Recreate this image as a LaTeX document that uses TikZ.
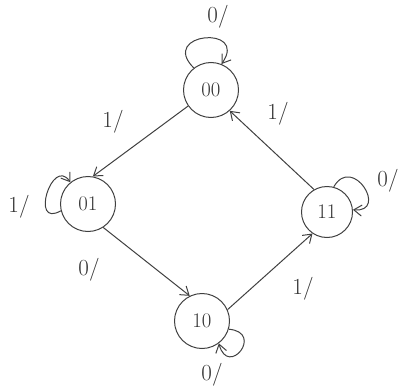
\documentclass[tikz,border=0pt]{standalone}
\usepackage{amsmath}
\usetikzlibrary{arrows.meta}
\tikzset{
  state/.style={draw, circle, minimum size=55pt, inner sep=0pt, font=\huge},
  trans/.style={-{Straight Barb[length=8pt,width=11pt]}},
  lbl/.style={font=\fontsize{23}{23}\selectfont, inner sep=0pt}
}
\begin{document}
\begin{tikzpicture}[x=1pt, y=-1pt, line width=1pt, draw=black!75, text=black!80]
\useasboundingbox (0,0) rectangle (403,385);
% states:
\node[state] (s00) at (211,90) {$00$};
\node[state] (s01) at (88,204) {$01$};
\node[state] (s10) at (202,321) {$10$};
\node[state, minimum size=51pt] (s11) at (327,212) {$11$};
% transitions:
\draw[trans] (s00.215) -- (s01.80);
\draw[trans] (s01.-57) -- (s10.116);
\draw[trans] (s10.24) -- (s11.236);
\draw[trans] (s11.120) -- (s00.-48);
% self loops:
\draw[trans] (s00.128) .. controls +(135:50pt) and +(55:48pt) .. (s00.68);
\draw[trans] (s01.194) .. controls +(210:36pt) and +(125:32pt) .. (s01.129);
\draw[trans] (s10.-17) .. controls +(-5:36pt) and +(-75:36pt) .. (s10.-53);
\draw[trans] (s11.75) .. controls +(60:38pt) and +(-5:36pt) .. (s11.5);
% labels:
\node[lbl] (l00) at (218,17) {0/};
\node[lbl] (l0001) at (113,122) {1/};
\node[lbl] (l01) at (19,207) {1/};
\node[lbl] (l0110) at (89,270) {0/};
\node[lbl] (l10) at (212,375) {0/};
\node[lbl] (l1011) at (303,289) {1/};
\node[lbl] (l11) at (388,181) {0/};
\node[lbl] (l1100) at (278,114) {1/};
\end{tikzpicture}
\end{document}
